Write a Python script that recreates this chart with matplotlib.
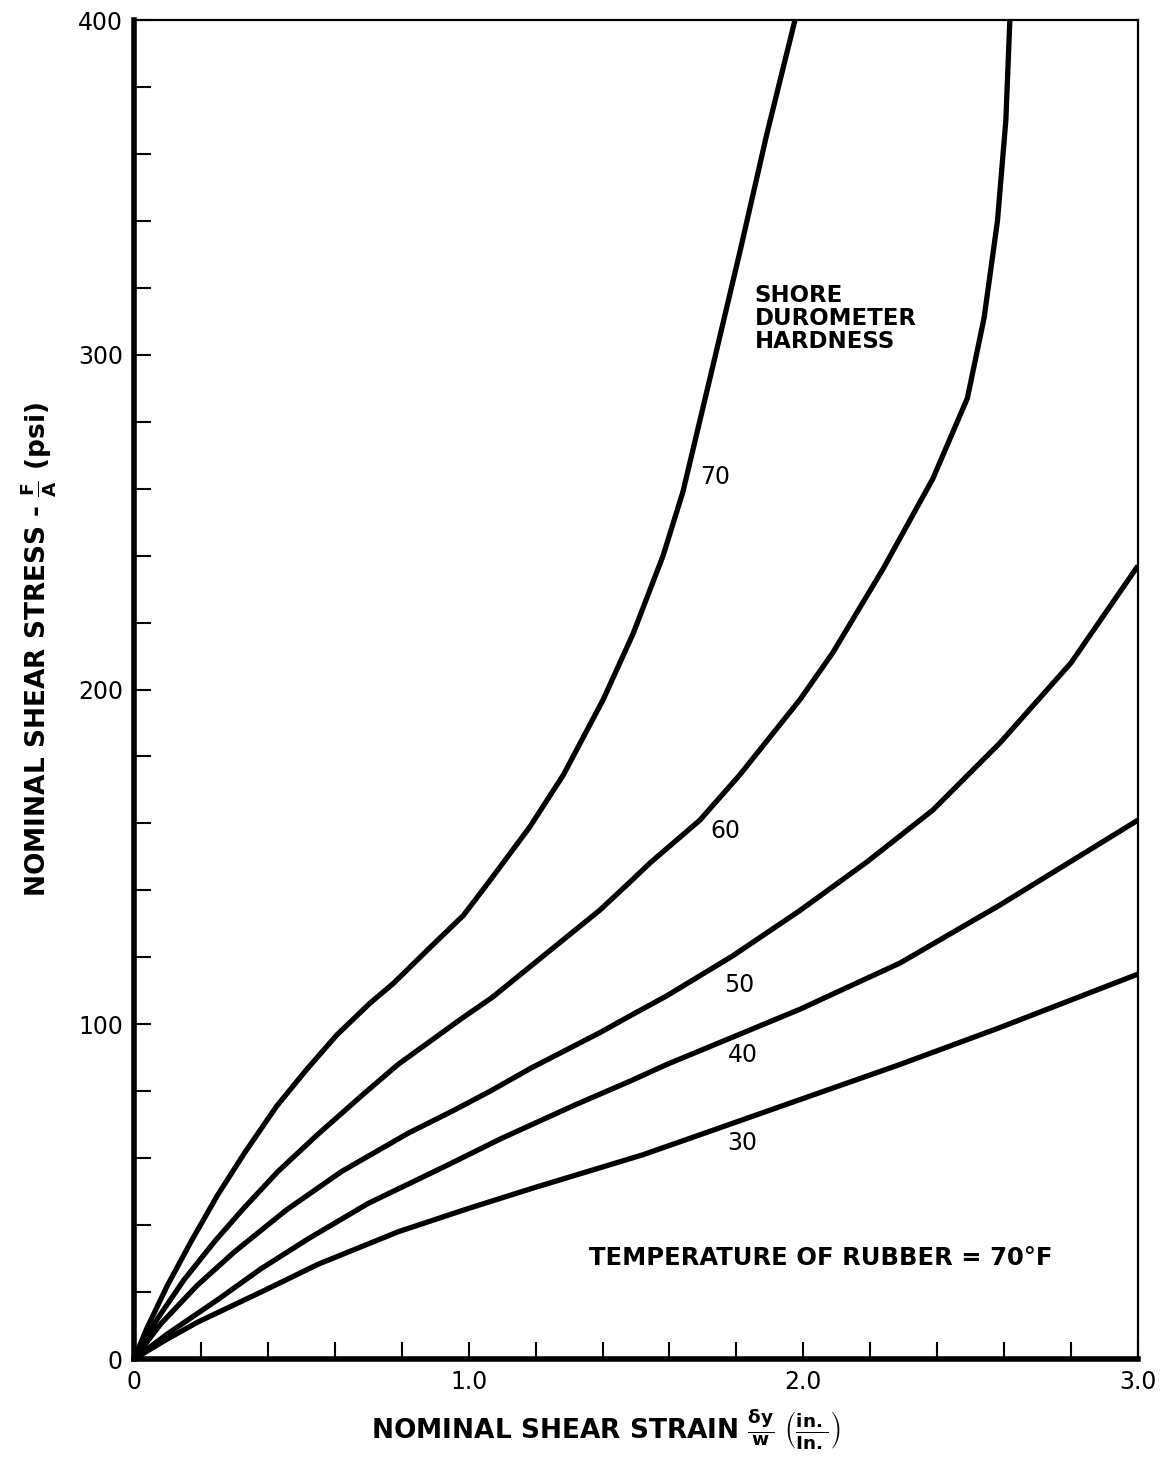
import numpy as np
import matplotlib
matplotlib.use("Agg")
import matplotlib.pyplot as plt

plt.rcParams['font.family'] = ['DejaVu Sans']
plt.rcParams['mathtext.fontset'] = 'dejavusans'

# shear strain (in./in.) vs nominal shear stress (psi), one curve per durometer
x70 = [0, 0.04, 0.1, 0.17, 0.25, 0.33, 0.426, 0.516, 0.606, 0.705, 0.775, 0.875, 0.984,
       1.064, 1.183, 1.283, 1.402, 1.491, 1.581, 1.640, 1.721, 1.811, 1.891, 1.975]
y70 = [0, 9.5, 22, 35, 49, 61.5, 75.5, 86.5, 96.8, 106.3, 112.2, 122, 132.5,
       143, 159, 174.5, 197, 216.6, 240, 259, 293, 331, 366, 400]

x60 = [0, 0.07, 0.149, 0.24, 0.323, 0.43, 0.548, 0.684, 0.789, 0.983, 1.07, 1.234, 1.392,
       1.482, 1.542, 1.691, 1.81, 1.99, 2.088, 2.238, 2.387, 2.49, 2.54, 2.58, 2.605, 2.617]
y60 = [0, 12, 23.6, 35, 44.5, 56, 67, 79, 88, 102, 108, 121.3, 134.1,
       142.5, 148.2, 161, 174.5, 197, 211, 236, 263, 287, 311, 340, 370, 400]

x50 = [0, 0.08, 0.189, 0.3, 0.455, 0.62, 0.82, 0.95, 1.064, 1.188, 1.392, 1.482, 1.592,
       1.79, 1.99, 2.19, 2.387, 2.587, 2.8, 3.0]
y50 = [0, 10.5, 22, 32, 44.5, 56, 67.5, 74, 80, 87, 97.5, 102.5, 108.5,
       120.5, 134, 148.5, 164, 184, 208, 237]

x40 = [0, 0.1, 0.254, 0.38, 0.522, 0.7, 0.926, 1.1, 1.32, 1.482, 1.592, 1.79, 1.99,
       2.289, 2.587, 3.0]
y40 = [0, 7.5, 18, 27, 36, 46.5, 57.4, 66, 76, 83, 88, 96.2, 104.5,
       118.3, 135.6, 161]

x30 = [0, 0.1, 0.19, 0.39, 0.55, 0.789, 1.0, 1.19, 1.52, 1.72, 1.99, 2.289, 2.587, 3.0]
y30 = [0, 6, 11, 20.5, 28.3, 38, 45, 51, 61, 68, 77.5, 88, 99, 115]

hardness = ["70", "60", "50", "40", "30"]
label_x = [1.736, 1.766, 1.807, 1.819, 1.816]
label_y = [263.5, 157.6, 111.7, 90.8, 64.5]

fig = plt.figure(figsize=(11.64, 14.61), dpi=100)
ax = fig.add_axes([0.1151, 0.0698, 0.8626, 0.9165])

for xs, ys in [(x70, y70), (x60, y60), (x50, y50), (x40, y40), (x30, y30)]:
    ax.plot(xs, ys, color='black', lw=3.8, solid_joinstyle='round',
            solid_capstyle='butt')

for t, lx, ly in zip(hardness, label_x, label_y):
    ax.text(lx, ly, t, fontsize=17, ha='center', va='center')

ax.text(1.855, 321, "SHORE\nDUROMETER\nHARDNESS", fontsize=16.5, fontweight='bold',
        ha='left', va='top', linespacing=1.0)
ax.text(2.053, 30.2, "TEMPERATURE OF RUBBER = 70°F", fontsize=17.5,
        fontweight='bold', ha='center', va='center')

ax.set_xlim(0, 3.0)
ax.set_ylim(0, 400)

ax.set_xticks([0, 1.0, 2.0, 3.0])
ax.set_xticklabels(["0", "1.0", "2.0", "3.0"])
ax.set_xticks(np.arange(0, 3.01, 0.2), minor=True)
ax.set_yticks([0, 100, 200, 300, 400])
ax.set_yticks(np.arange(0, 401, 20), minor=True)

ax.tick_params(axis='both', which='both', direction='in', length=12, width=1.5,
               labelsize=17, top=False, right=False)
ax.tick_params(axis='x', which='major', pad=8)
ax.tick_params(axis='y', which='major', pad=8)

for side in ['left', 'bottom']:
    ax.spines[side].set_linewidth(4.0)
for side in ['top', 'right']:
    ax.spines[side].set_linewidth(1.6)

ax.set_xlabel(r"NOMINAL SHEAR STRAIN $\mathbf{\frac{\delta y}{w}\ \left(\frac{in.}{In.}\right)}$",
              fontsize=19, fontweight='bold')
ax.xaxis.set_label_coords(0.47, -0.036)
ax.set_ylabel(r"NOMINAL SHEAR STRESS - $\mathbf{\frac{F}{A}}$ (psi)",
              fontsize=19, fontweight='bold')
ax.yaxis.set_label_coords(-0.075, 0.53)

fig.savefig("out.png", dpi=100)
